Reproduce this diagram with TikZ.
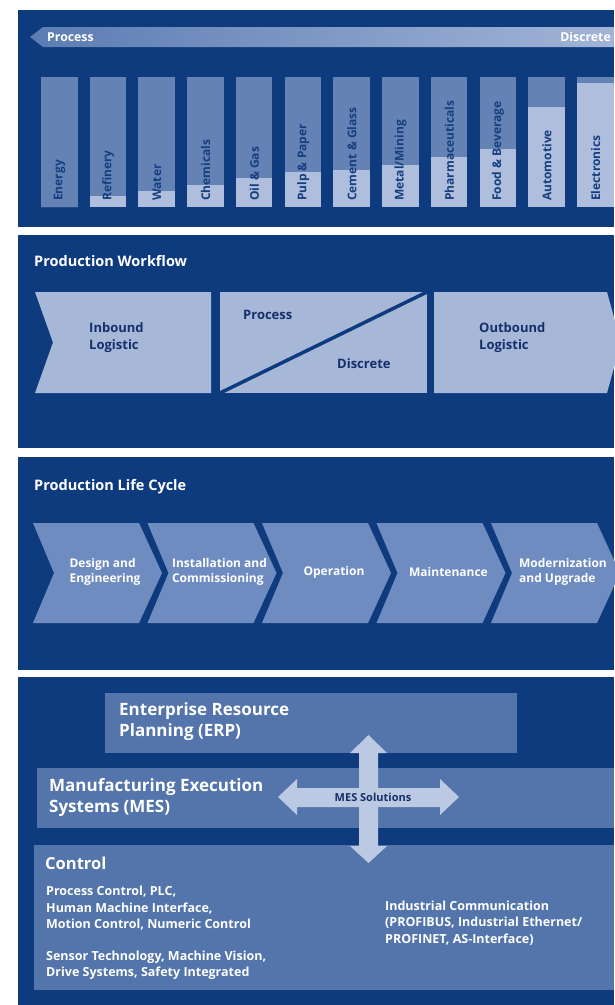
\documentclass[tikz,border=0pt]{standalone}
\usepackage{fontspec}
\setmainfont{Open Sans}
\definecolor{navy}{HTML}{0D3B7E}
\definecolor{colmid}{HTML}{6582B5}
\definecolor{collight}{HTML}{AEBEDC}
\definecolor{coltext}{HTML}{163F80}
\definecolor{barl}{HTML}{5B7DB3}
\definecolor{barr}{HTML}{A2B4D6}
\definecolor{wfbox}{HTML}{A6B7D8}
\definecolor{lcchev}{HTML}{6F8CC0}
\definecolor{layerbox}{HTML}{5375AB}
\definecolor{arrowlight}{HTML}{BCC9E2}
\definecolor{darktext}{HTML}{14306A}
\begin{document}
\begin{tikzpicture}[x=1pt,y=-1pt,
  panel/.style={fill=navy},
  collbl/.style={rotate=90, anchor=west, inner sep=0pt, text=coltext, font=\bfseries\fontsize{12}{14}\selectfont},
  title/.style={anchor=west, inner sep=0pt, text=white, font=\bfseries\fontsize{14.5}{17}\selectfont},
  wftext/.style={anchor=west, inner sep=0pt, align=left, text=darktext, font=\bfseries\fontsize{13}{17}\selectfont},
  lctext/.style={inner sep=0pt, align=left, text=white, font=\bfseries\fontsize{12}{15}\selectfont},
  bigtext/.style={anchor=west, inner sep=0pt, align=left, text=white, font=\bfseries\fontsize{17}{21}\selectfont},
  smalltext/.style={anchor=west, inner sep=0pt, align=left, text=white, font=\bfseries\fontsize{12.5}{16.5}\selectfont},
  bartext/.style={inner sep=0pt, text=white, font=\bfseries\fontsize{12.3}{14}\selectfont}]
\useasboundingbox (0,0) rectangle (614,1005);
\fill[white] (0,0) rectangle (614,1005);
% panels
\fill[panel] (18,10) rectangle (614,227);
\fill[panel] (18,235) rectangle (614,448);
\fill[panel] (18,457) rectangle (614,670);
\fill[panel] (18,677) rectangle (614,1005);
% top bar
\shade[left color=barl, right color=barr] (30,37) -- (43,27) -- (614,27) -- (614,47) -- (43,47) -- cycle;
\node[bartext, anchor=west] (procbar) at (47,37) {Process};
\node[bartext, anchor=east] (discbar) at (611,37) {Discrete};
% columns
\foreach \i/\lab/\ly in {0/Energy/207, 1/Refinery/196, 2/Water/191, 3/Chemicals/185, 4/Oil \& Gas/178, 5/Pulp \& Paper/172, 6/Cement \& Glass/170, 7/Metal\slash Mining/165, 8/Pharmaceuticals/157, 9/Food \& Beverage/149, 10/Automotive/107, 11/Electronics/83}{
  \pgfmathsetmacro\cx{41+48.73*\i}
  \fill[colmid] (\cx,77) rectangle ++(36.5,130);
  \fill[collight] (\cx,\ly) rectangle (\cx+36.5,207);
  \node[collbl] (col\i) at (\cx+18.5,201) {\lab};
}
% production workflow
\node[title] (wftitle) at (34,261) {Production Workflow};
\fill[wfbox] (35,292) -- (211,292) -- (211,393) -- (35,393) -- (53,342.5) -- cycle;
\fill[wfbox] (220,292) rectangle (427,393);
\draw[navy, line width=3.5pt] (220,393) -- (427,292);
\fill[wfbox] (434,292) -- (607,292) -- (621,342.5) -- (607,393) -- (434,393) -- cycle;
\node[wftext] (inb) at (89,337.5) {Inbound\\Logistic};
\node[wftext] (wfproc) at (243,315) {Process};
\node[wftext] (wfdisc) at (337,364) {Discrete};
\node[wftext] (outb) at (479,337.5) {Outbound\\Logistic};
% production life cycle
\node[title] (lctitle) at (34,487) {Production Life Cycle};
\foreach \i/\lab in {0/{Design and\\Engineering}, 1/{Installation and\\Commissioning}, 2/{Operation}, 3/{Maintenance}, 4/{Modernization\\and Upgrade}}{
  \pgfmathsetmacro\xo{33+114.5*\i}
  \fill[lcchev] (\xo,523) -- (\xo+106,523) -- (\xo+129,573) -- (\xo+106,623) -- (\xo,623) -- (\xo+21,573) -- cycle;
  \node[lctext] (lc\i) at (\xo+72,572) {\lab};
}
% automation layers
\fill[layerbox] (105,693) rectangle (517,753);
\fill[layerbox] (37,768) rectangle (614,828);
\fill[layerbox] (34,845) rectangle (614,990);
\node[bigtext] (erp) at (119,721.5) {Enterprise Resource\\Planning (ERP)};
\node[bigtext] (mes) at (49,798) {Manufacturing Execution\\Systems (MES)};
\node[bigtext, font=\bfseries\fontsize{16.5}{19}\selectfont] (ctrl) at (45,863) {Control};
\node[smalltext] (ctrl1) at (46,908.5) {Process Control, PLC,\\Human Machine Interface,\\Motion Control, Numeric Control};
\node[smalltext] (ctrl2) at (46,965) {Sensor Technology, Machine Vision,\\Drive Systems, Safety Integrated};
\node[smalltext] (comm) at (385,923) {Industrial Communication\\(PROFIBUS, Industrial Ethernet/\\PROFINET, AS-Interface)};
% cross arrow
\fill[arrowlight] (368.5,735) -- (387,753) -- (378,753) -- (378,846) -- (387,846) -- (368.5,863) -- (350,846) -- (359,846) -- (359,753) -- (350,753) -- cycle;
\fill[arrowlight] (278,797) -- (297,779) -- (297,788) -- (440,788) -- (440,779) -- (459,797) -- (440,815) -- (440,807) -- (297,807) -- (297,815) -- cycle;
\node[inner sep=0pt, text=darktext, font=\bfseries\fontsize{11}{12}\selectfont] (messol) at (373,797) {MES Solutions};
\end{tikzpicture}
\end{document}
